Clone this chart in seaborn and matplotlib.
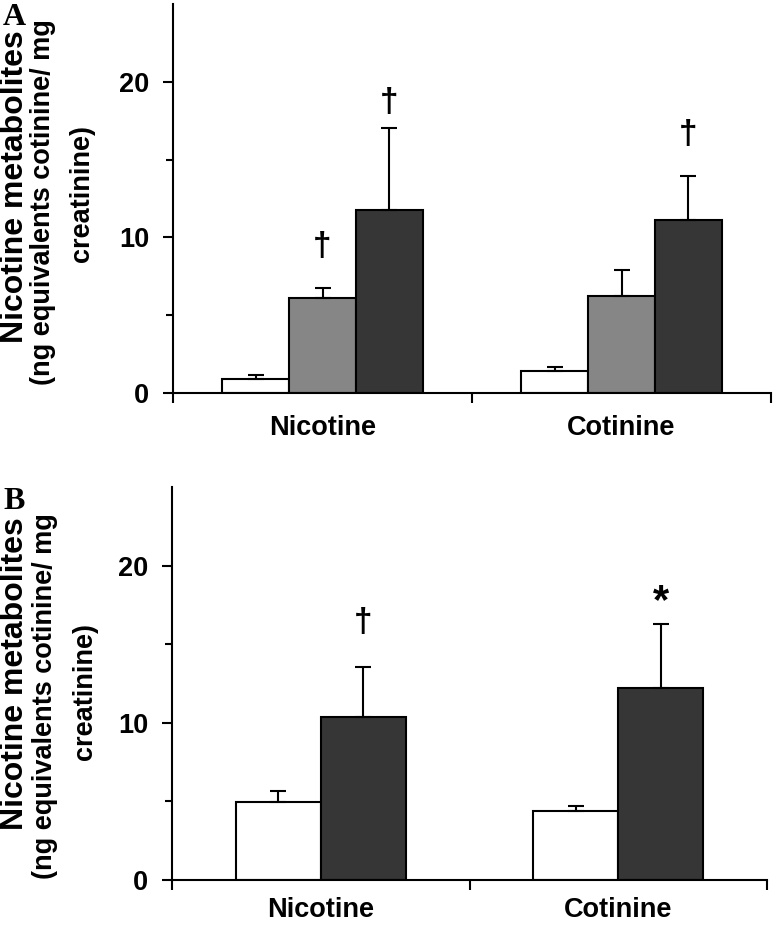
import pandas as pd
import matplotlib
matplotlib.use("Agg")
import matplotlib.pyplot as plt
import seaborn as sns

# values (means and upper SEM)
metabolites = ["Nicotine", "Cotinine"]

groups_a = ["Group 1", "Group 2", "Group 3"]
a_means = {"Group 1": [0.9, 1.39], "Group 2": [6.13, 6.26], "Group 3": [11.79, 11.1]}
a_errs = {"Group 1": [0.28, 0.30], "Group 2": [0.62, 1.67], "Group 3": [5.27, 2.87]}
a_colors = ["#ffffff", "#868686", "#363636"]
# (metabolite, group, symbol, y position)
a_marks = [("Nicotine", "Group 2", "\u2020", 9.4),
           ("Nicotine", "Group 3", "\u2020", 18.7),
           ("Cotinine", "Group 3", "\u2020", 16.6)]

groups_b = ["Group 1", "Group 2"]
b_means = {"Group 1": [4.99, 4.39], "Group 2": [10.38, 12.23]}
b_errs = {"Group 1": [0.68, 0.32], "Group 2": [3.14, 4.03]}
b_colors = ["#ffffff", "#363636"]
b_marks = [("Nicotine", "Group 2", "\u2020", 16.4),
           ("Cotinine", "Group 2", "*", 17.7)]

ylabel_lines = ["Nicotine metabolites", "(ng equivalents cotinine/ mg", "creatinine)"]
ylabel_sizes = [23, 19.5, 19.5]

sns.set_style("ticks")
plt.rcParams["font.family"] = ["Liberation Sans", "DejaVu Sans"]
for k in ["text.color", "axes.labelcolor", "xtick.color", "ytick.color", "axes.edgecolor"]:
    plt.rcParams[k] = "black"

W, H = 774, 926
fig = plt.figure(figsize=(W / 100, H / 100), dpi=100)


def to_frame(groups, means):
    rows = []
    for g in groups:
        for m, v in zip(metabolites, means[g]):
            rows.append({"metabolite": m, "group": g, "value": v})
    return pd.DataFrame(rows)


def draw_panel(rect, groups, means, errs, colors, marks, width, xpad):
    ax = fig.add_axes(rect)
    df = to_frame(groups, means)
    sns.barplot(data=df, x="metabolite", y="value", hue="group", order=metabolites,
                hue_order=groups, palette=colors, saturation=1, edgecolor="black",
                linewidth=1.5, width=width, gap=0, errorbar=None, legend=False, ax=ax)
    centers = {}
    for g, cont in zip(groups, ax.containers):
        for m, bar, e in zip(metabolites, cont, errs[g]):
            x = bar.get_x() + bar.get_width() / 2
            y = bar.get_height()
            centers[(m, g)] = x
            ax.errorbar(x, y, yerr=[[0], [e]], fmt="none", ecolor="black",
                        elinewidth=1.5, capsize=6, capthick=1.5, zorder=3)
    for m, g, sym, y in marks:
        ax.text(centers[(m, g)], y, sym, ha="center", va="center",
                fontsize=30 if sym == "*" else 24, fontweight="bold")
    ax.set_ylim(0, 25)
    ax.set_xlim(-0.5, 1.5)
    ax.set_yticks([0, 10, 20])
    ax.set_yticks([5, 15], minor=True)
    ax.set_xticks([-0.5, 0.5, 1.5], minor=True)
    ax.set_xlabel("")
    ax.set_ylabel("")
    sns.despine(ax=ax)
    for s in ["left", "bottom"]:
        ax.spines[s].set_linewidth(1.5)
    ax.tick_params(axis="y", which="major", length=7, width=1.5, pad=10, labelsize=19.5)
    ax.tick_params(axis="y", which="minor", length=5, width=1.5)
    ax.tick_params(axis="x", which="major", length=0, pad=xpad, labelsize=19.5)
    ax.tick_params(axis="x", which="minor", length=7, width=1.5)
    for lab in ax.get_xticklabels() + ax.get_yticklabels():
        lab.set_fontweight("bold")
    return ax


ax_a = draw_panel([173 / W, 1 - 393 / H, (771 - 173) / W, (393 - 4) / H],
                  groups_a, a_means, a_errs, a_colors, a_marks, 0.67, 16)
ax_b = draw_panel([172 / W, 1 - 880 / H, (767 - 172) / W, (880 - 487) / H],
                  groups_b, b_means, b_errs, b_colors, b_marks, 0.57, 12)

# panel letters
fig.text(3 / W, 1 - 3 / H, "A", family="Liberation Serif", fontweight="bold",
         fontsize=23, va="top", ha="left")
fig.text(3 / W, 1 - 487 / H, "B", family="Liberation Serif", fontweight="bold",
         fontsize=23, va="top", ha="left")

# three-line y labels
label_pos = {
    "A": [(0, 187), (30, 202), (69, 194)],
    "B": [(0, 674), (32, 696), (72, 692)],
}
for key in ["A", "B"]:
    for text, size, (x, y) in zip(ylabel_lines, ylabel_sizes, label_pos[key]):
        fig.text(x / W, 1 - y / H, text, rotation=90, ha="left", va="center",
                 fontsize=size, fontweight="bold")

fig.savefig("out.png", dpi=100)
